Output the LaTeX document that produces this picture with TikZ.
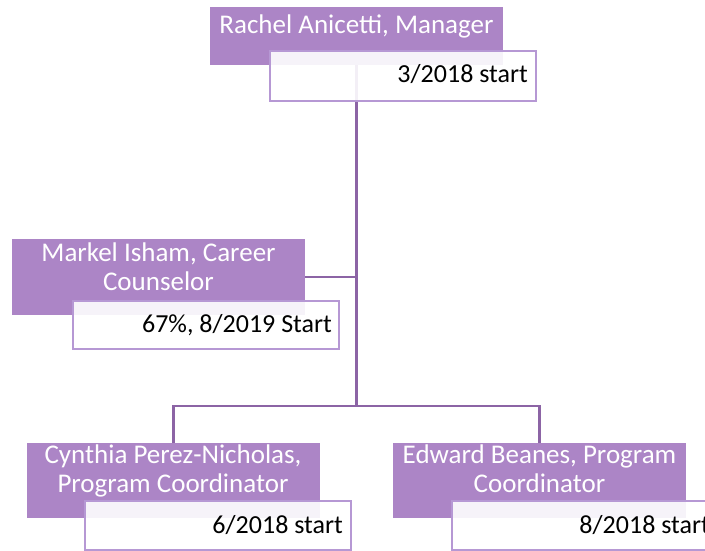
\documentclass[tikz,border=0pt]{standalone}
\usepackage{fontspec}
\setmainfont{Carlito}
\definecolor{boxpurple}{RGB}{172,133,198}
\definecolor{linepurple}{RGB}{140,100,165}
\definecolor{edgepurple}{RGB}{182,152,212}
\tikzset{
  namebox/.style={fill=boxpurple, inner sep=0pt, minimum width=293pt, anchor=north west},
  datebox/.style={fill=white, fill opacity=0.9, draw=edgepurple, line width=1.5pt, inner sep=0pt, minimum width=266pt, minimum height=49pt, anchor=north west},
  nametext/.style={text=white, font=\fontsize{27}{28.8}\selectfont, align=center, anchor=base, inner sep=0pt},
  datetext/.style={text=black, font=\fontsize{26}{28.5}\selectfont, anchor=base east, inner sep=0pt},
  link/.style={draw=linepurple, line width=2.5pt}
}
\begin{document}
\begin{tikzpicture}[x=1pt, y=-1pt]
\useasboundingbox (0,0) rectangle (705,550);
\clip (0,0) rectangle (705,550);
% name boxes
\node[namebox, minimum height=58pt] (p1) at (210,7) {};
\node[namebox, minimum height=76pt] (p2) at (12,239) {};
\node[namebox, minimum height=75pt] (p3) at (27,443) {};
\node[namebox, minimum height=75pt] (p4) at (393,443) {};
% connectors
\coordinate (bar) at (0,406);
\draw[link] (p1.south) -- (p1.south |- bar);
\draw[link] (p2.east) -- (p2.east -| p1.south);
\draw[link] (p3.north) -- (p3.north |- bar) -- (p4.north |- bar) -- (p4.north);
% date boxes
\node[datebox, minimum height=50pt] (d1) at (269,50) {};
\node[datebox, minimum height=48pt] (d2) at (72,300) {};
\node[datebox] (d3) at (84,500) {};
\node[datebox] (d4) at (451,500) {};
% texts (base anchor = baseline of last line)
\node[nametext] (t1) at (356.5,33) {Rachel Anicetti, Manager};
\node[nametext] (t2) at (158.5,290.5) {Markel Isham, Career\\Counselor};
\node[nametext] (t3) at (173,492) {Cynthia Perez-Nicholas,\\Program Coordinator};
\node[nametext] (t4) at (539.5,492) {Edward Beanes, Program\\Coordinator};
\node[datetext] (s1) at (528,82) {3/2018 start};
\node[datetext] (s2) at (332,332) {67\%, 8/2019 Start};
\node[datetext] (s3) at (343,533) {6/2018 start};
\node[datetext] (s4) at (710,533) {8/2018 start};
\end{tikzpicture}
\end{document}
